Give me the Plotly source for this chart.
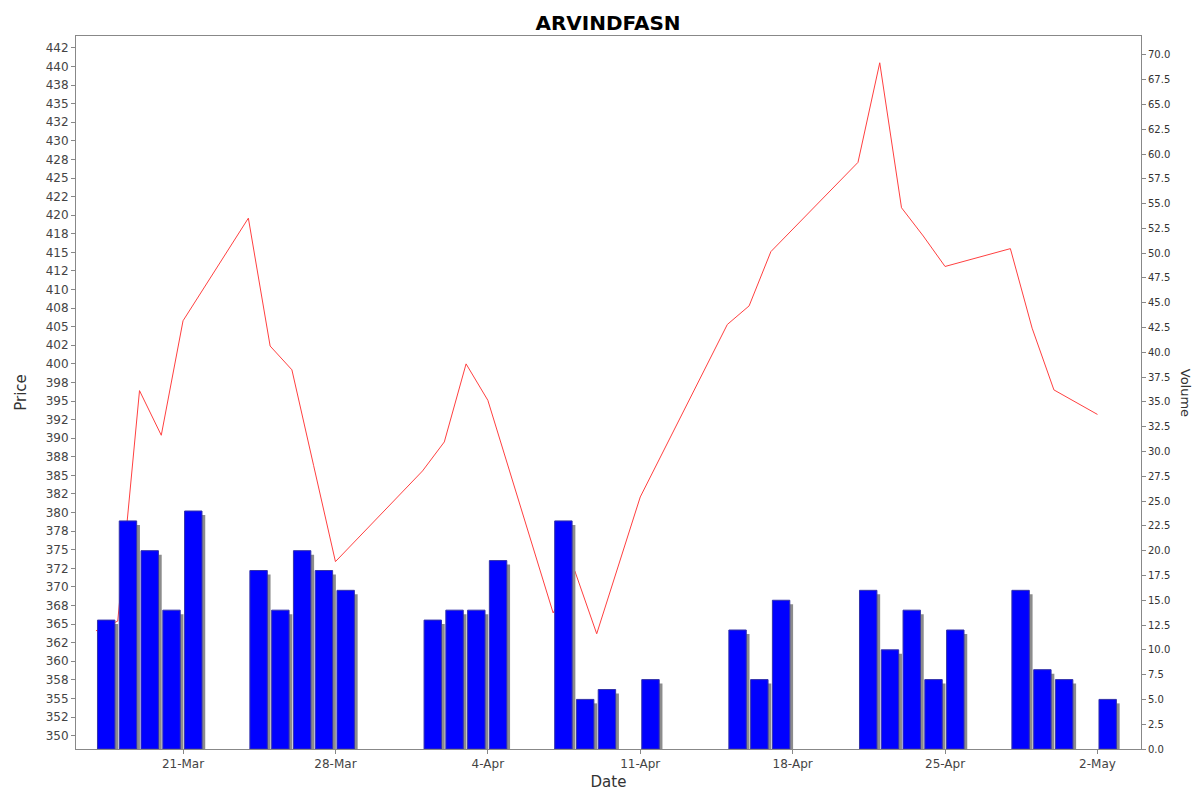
import plotly.graph_objects as go

dates = ["2025-03-17", "2025-03-18", "2025-03-19", "2025-03-20", "2025-03-21",
         "2025-03-24", "2025-03-25", "2025-03-26", "2025-03-27", "2025-03-28",
         "2025-04-01", "2025-04-02", "2025-04-03", "2025-04-04",
         "2025-04-07", "2025-04-08", "2025-04-09", "2025-04-11",
         "2025-04-15", "2025-04-16", "2025-04-17",
         "2025-04-21", "2025-04-22", "2025-04-23", "2025-04-24", "2025-04-25",
         "2025-04-28", "2025-04-29", "2025-04-30", "2025-05-02"]
price = [364.1, 365.4, 396.4, 390.4, 405.8,
         419.6, 402.4, 399.2, 386.3, 373.4,
         385.6, 389.5, 400.0, 395.1,
         366.5, 372.1, 363.7, 382.1,
         405.3, 407.8, 415.1,
         427.1, 440.5, 421.0, 417.2, 413.1,
         415.5, 404.8, 396.5, 393.2]
volume = [13, 23, 20, 14, 24,
          18, 14, 20, 18, 16,
          13, 14, 14, 19,
          23, 5, 6, 7,
          12, 7, 15,
          16, 10, 14, 7, 12,
          16, 8, 7, 5]

DAY = 86400000
price_ticks = [350 + 2.5 * i for i in range(38)]
vol_ticks = [2.5 * i for i in range(29)]

fig = go.Figure()
# grey shadow behind each volume bar
fig.add_trace(go.Bar(x=dates, y=[v - 0.4 for v in volume], yaxis="y2",
                     width=0.8 * DAY, offset=0.22 * DAY,
                     marker=dict(color="#8c8c8c", line=dict(width=0)),
                     showlegend=False, hoverinfo="skip"))
fig.add_trace(go.Bar(x=dates, y=volume, yaxis="y2", name="Volume",
                     width=0.8 * DAY, offset=0.07 * DAY,
                     marker=dict(color="#0000ff", line=dict(color="#3333aa", width=1)),
                     showlegend=False))
fig.add_trace(go.Scatter(x=dates, y=price, mode="lines", name="Price",
                         line=dict(color="#ff4040", width=1), showlegend=False))

axis_font = dict(family="DejaVu Sans", size=12, color="#444")
fig.update_layout(
    width=1200, height=792, barmode="overlay",
    paper_bgcolor="white", plot_bgcolor="white",
    margin=dict(l=59, r=67, t=28, b=46),
    title=dict(text="<b>ARVINDFASN</b>", x=0.5, y=0.99, xanchor="center",
               font=dict(family="DejaVu Sans", size=20, color="black")),
    xaxis=dict(type="date", range=["2025-03-16 02:00", "2025-05-04 00:00"],
               tickvals=["2025-03-21", "2025-03-28", "2025-04-04", "2025-04-11",
                         "2025-04-18", "2025-04-25", "2025-05-02"],
               ticktext=["21-Mar", "28-Mar", "4-Apr", "11-Apr", "18-Apr", "25-Apr", "2-May"],
               showline=True, linecolor="#888", mirror=True, ticks="outside",
               ticklen=4, tickcolor="#888", showgrid=False, tickfont=axis_font,
               title=dict(text="Date", standoff=6,
                          font=dict(family="DejaVu Sans", size=15, color="#333"))),
    yaxis=dict(range=[348.2, 444.1], tickvals=price_ticks,
               ticktext=[str(round(t)) for t in price_ticks],
               showline=True, linecolor="#888", ticks="outside", ticklen=4,
               tickcolor="#888", showgrid=False, zeroline=False, tickfont=axis_font,
               title=dict(text="Price", font=dict(family="DejaVu Sans", size=15, color="#333"))),
    yaxis2=dict(overlaying="y", side="right", range=[0, 71.9], tickvals=vol_ticks,
                ticktext=["%.1f" % t for t in vol_ticks],
                showline=True, linecolor="#888", ticks="outside", ticklen=4,
                tickcolor="#888", showgrid=False, zeroline=False,
                tickfont=dict(family="DejaVu Sans", size=10, color="#333")),
    annotations=[dict(text="Volume", textangle=90, xref="paper", yref="paper",
                      x=1.042, y=0.5, showarrow=False, xanchor="center",
                      font=dict(family="DejaVu Sans", size=13, color="#333"))],
)

fig.write_html("out.html")
